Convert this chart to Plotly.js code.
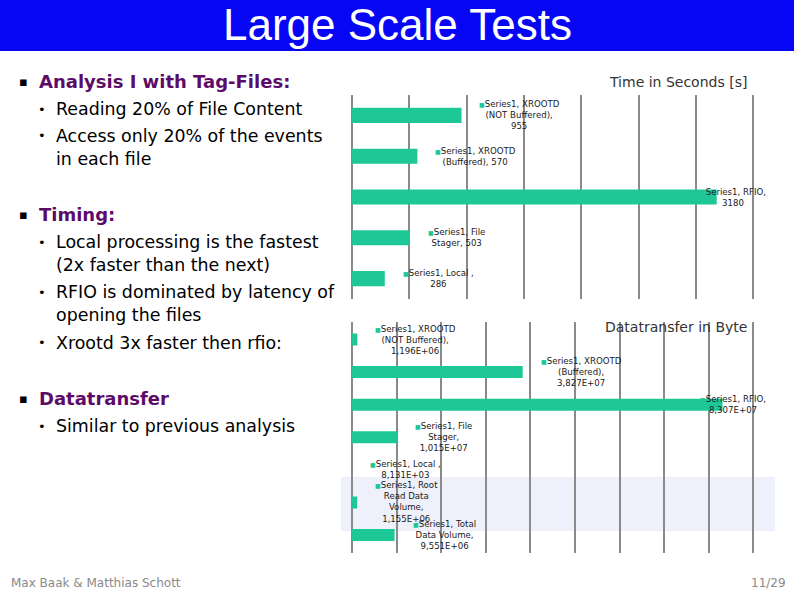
<!DOCTYPE html>
<html>
<head>
<meta charset="utf-8">
<script src="https://cdn.plot.ly/plotly-3.0.1.min.js"></script>
<style>html,body{margin:0;padding:0;background:#fff;}#chart{width:794px;height:595px;}</style>
</head>
<body>
<div id="chart"></div>
<script>
// ---- Data ----
var timeCategories = ['Local', 'File Stager', 'RFIO', 'XROOTD (Buffered)', 'XROOTD (NOT Buffered)'];
var timeValues = [286, 503, 3180, 570, 955];
var timeLabelHeads = ['Series1, Local ,<br>', 'Series1, File<br>Stager, ', 'Series1, RFIO,<br>', 'Series1, XROOTD<br>(Buffered), ', 'Series1, XROOTD<br>(NOT Buffered),<br>'];

var byteCategories = ['Total Data Volume', 'Root Read Data Volume', 'Local', 'File Stager', 'RFIO', 'XROOTD (Buffered)', 'XROOTD (NOT Buffered)'];
var byteValues = [9.551e6, 1.155e6, 8.131e3, 1.015e7, 8.307e7, 3.827e7, 1.196e6];
var byteLabelHeads = ['Series1, Total<br>Data Volume,<br>', 'Series1, Root<br>Read Data<br>Volume,<br>', 'Series1, Local ,<br>', 'Series1, File<br>Stager,<br>', 'Series1, RFIO,<br>', 'Series1, XROOTD<br>(Buffered),<br>', 'Series1, XROOTD<br>(NOT Buffered),<br>'];

var slideTitle = 'Large Scale Tests';
var timeTitle = 'Time in Seconds [s]';
var byteTitle = 'Datatransfer in Byte';
var footerLeft = 'Max Baak &amp; Matthias Schott';
var footerRight = '11/29';
var bulletLines = [
  ['h', 'Analysis I with Tag-Files:'],
  ['b', 'Reading 20% of File Content'],
  ['b', 'Access only 20% of the events'],
  ['c', 'in each file'],
  ['h', 'Timing:'],
  ['b', 'Local processing is the fastest'],
  ['c', '(2x faster than the next)'],
  ['b', 'RFIO is dominated by latency of'],
  ['c', 'opening the files'],
  ['b', 'Xrootd 3x faster then rfio:'],
  ['h', 'Datatransfer'],
  ['b', 'Similar to previous analysis']
];

// ---- Styles / layout helpers ----
var W = 794, H = 595;
function px(x) { return x / W; }
function py(y) { return 1 - y / H; }
var barColor = '#1ec896';
var gridColor = '#8a8a8a';
var labelFont = {family: 'Tahoma, "DejaVu Sans", sans-serif', size: 8.6, color: '#1a1a1a'};
var lineY = [82, 109, 136, 159, 214, 242, 265, 292, 315, 343, 398, 426];
var timeShift = [16, 16, -19, 16, 15];
var byteShift = [16, 16, 16, 16, -24, 16, 16];

function fmtSci(v) {
  var s = v.toExponential(3).split('e');
  var exp = parseInt(s[1], 10);
  var e = (exp < 0 ? '-' : '+') + (Math.abs(exp) < 10 ? '0' : '') + Math.abs(exp);
  return s[0].replace('.', ',') + 'E' + e;
}
var sq = '<span style="color:' + barColor + ';font-size:6px">■</span>';

var traces = [
  {type: 'bar', orientation: 'h', x: timeValues, y: timeCategories, xaxis: 'x', yaxis: 'y',
   marker: {color: barColor}, hoverinfo: 'x+y', showlegend: false},
  {type: 'bar', orientation: 'h', x: byteValues, y: byteCategories, xaxis: 'x2', yaxis: 'y2',
   marker: {color: barColor}, hoverinfo: 'x+y', showlegend: false}
];

var annotations = [];
timeValues.forEach(function (v, i) {
  annotations.push({xref: 'x', yref: 'y', x: v, y: timeCategories[i], xanchor: 'left', yanchor: 'middle',
    xshift: timeShift[i], showarrow: false, align: 'center', font: labelFont,
    text: sq + timeLabelHeads[i] + String(v)});
});
byteValues.forEach(function (v, i) {
  annotations.push({xref: 'x2', yref: 'y2', x: v, y: byteCategories[i], xanchor: 'left', yanchor: 'middle',
    xshift: byteShift[i], showarrow: false, align: 'center', font: labelFont,
    text: sq + byteLabelHeads[i] + fmtSci(v)});
});
// chart titles
annotations.push({xref: 'paper', yref: 'paper', x: px(749), y: py(82), xanchor: 'right', yanchor: 'middle',
  showarrow: false, text: timeTitle, font: {family: 'Tahoma, "DejaVu Sans", sans-serif', size: 14, color: '#333'}});
annotations.push({xref: 'paper', yref: 'paper', x: px(749), y: py(327), xanchor: 'right', yanchor: 'middle',
  showarrow: false, text: byteTitle, font: {family: 'Tahoma, "DejaVu Sans", sans-serif', size: 14, color: '#333'}});
// slide title
annotations.push({xref: 'paper', yref: 'paper', x: px(397), y: py(25), xanchor: 'center', yanchor: 'middle',
  showarrow: false, text: slideTitle, font: {family: '"Liberation Sans", Arial, sans-serif', size: 44, color: '#ffffff'}});
// footer
annotations.push({xref: 'paper', yref: 'paper', x: px(9), y: py(583), xanchor: 'left', yanchor: 'middle',
  showarrow: false, text: footerLeft, font: {family: 'Tahoma, "DejaVu Sans", sans-serif', size: 12, color: '#8a8a8a'}});
annotations.push({xref: 'paper', yref: 'paper', x: px(788), y: py(583), xanchor: 'right', yanchor: 'middle',
  showarrow: false, text: footerRight, font: {family: 'Tahoma, "DejaVu Sans", sans-serif', size: 12, color: '#8a8a8a'}});
// bullet text
bulletLines.forEach(function (ln, i) {
  var y = py(lineY[i]);
  if (ln[0] === 'h') {
    annotations.push({xref: 'paper', yref: 'paper', x: px(23), y: y, xanchor: 'center', yanchor: 'middle',
      showarrow: false, text: '▪', font: {family: '"DejaVu Sans", sans-serif', size: 13, color: '#000'}});
    annotations.push({xref: 'paper', yref: 'paper', x: px(37), y: y, xanchor: 'left', yanchor: 'middle',
      showarrow: false, text: '<b>' + ln[1] + '</b>', font: {family: 'Tahoma, "DejaVu Sans", sans-serif', size: 18, color: '#5c0c68'}});
  } else {
    if (ln[0] === 'b') {
      annotations.push({xref: 'paper', yref: 'paper', x: px(42), y: y, xanchor: 'center', yanchor: 'middle',
        showarrow: false, text: '•', font: {family: '"DejaVu Sans", sans-serif', size: 13, color: '#000'}});
    }
    annotations.push({xref: 'paper', yref: 'paper', x: px(54), y: y, xanchor: 'left', yanchor: 'middle',
      showarrow: false, text: ln[1], font: {family: 'Tahoma, "DejaVu Sans", sans-serif', size: 17.4, color: '#000'}});
  }
});

var shapes = [
  {type: 'rect', xref: 'paper', yref: 'paper', x0: 0, x1: 1, y0: py(51), y1: 1, fillcolor: '#0606f4', line: {width: 0}, layer: 'below'},
  {type: 'rect', xref: 'paper', yref: 'paper', x0: px(341), x1: px(775), y0: py(531), y1: py(477), fillcolor: '#eef0fb', line: {width: 0}, layer: 'below'}
];

var axisCommon = {showgrid: true, gridcolor: gridColor, gridwidth: 2, zeroline: true, zerolinecolor: gridColor,
  zerolinewidth: 2, showticklabels: false, ticks: '', showline: false, fixedrange: true};
var catAxis = {showgrid: false, zeroline: false, showticklabels: false, ticks: '', showline: false, fixedrange: true, type: 'category'};

// slight padding beyond the last gridline so the edge gridline is drawn
var pad = 1.004;
var plotLeft = 352, plotRightGrid = 753.4;
var plotRight = plotLeft + (plotRightGrid - plotLeft) * pad;

var layout = {
  width: W, height: H,
  margin: {l: 0, r: 0, t: 0, b: 0},
  paper_bgcolor: 'rgba(0,0,0,0)', plot_bgcolor: 'rgba(0,0,0,0)',
  showlegend: false,
  bargap: 0.63,
  xaxis: Object.assign({}, axisCommon, {domain: [px(plotLeft), px(plotRight)], range: [0, 3500 * pad], dtick: 500, anchor: 'y'}),
  yaxis: Object.assign({}, catAxis, {domain: [py(299), py(95)], anchor: 'x'}),
  xaxis2: Object.assign({}, axisCommon, {domain: [px(plotLeft), px(plotRight)], range: [0, 9e7 * pad], dtick: 1e7, anchor: 'y2'}),
  yaxis2: Object.assign({}, catAxis, {domain: [py(553), py(321.5)], anchor: 'x2'}),
  annotations: annotations,
  shapes: shapes
};

Plotly.newPlot('chart', traces, layout, {displayModeBar: false, staticPlot: true});
</script>
</body>
</html>
